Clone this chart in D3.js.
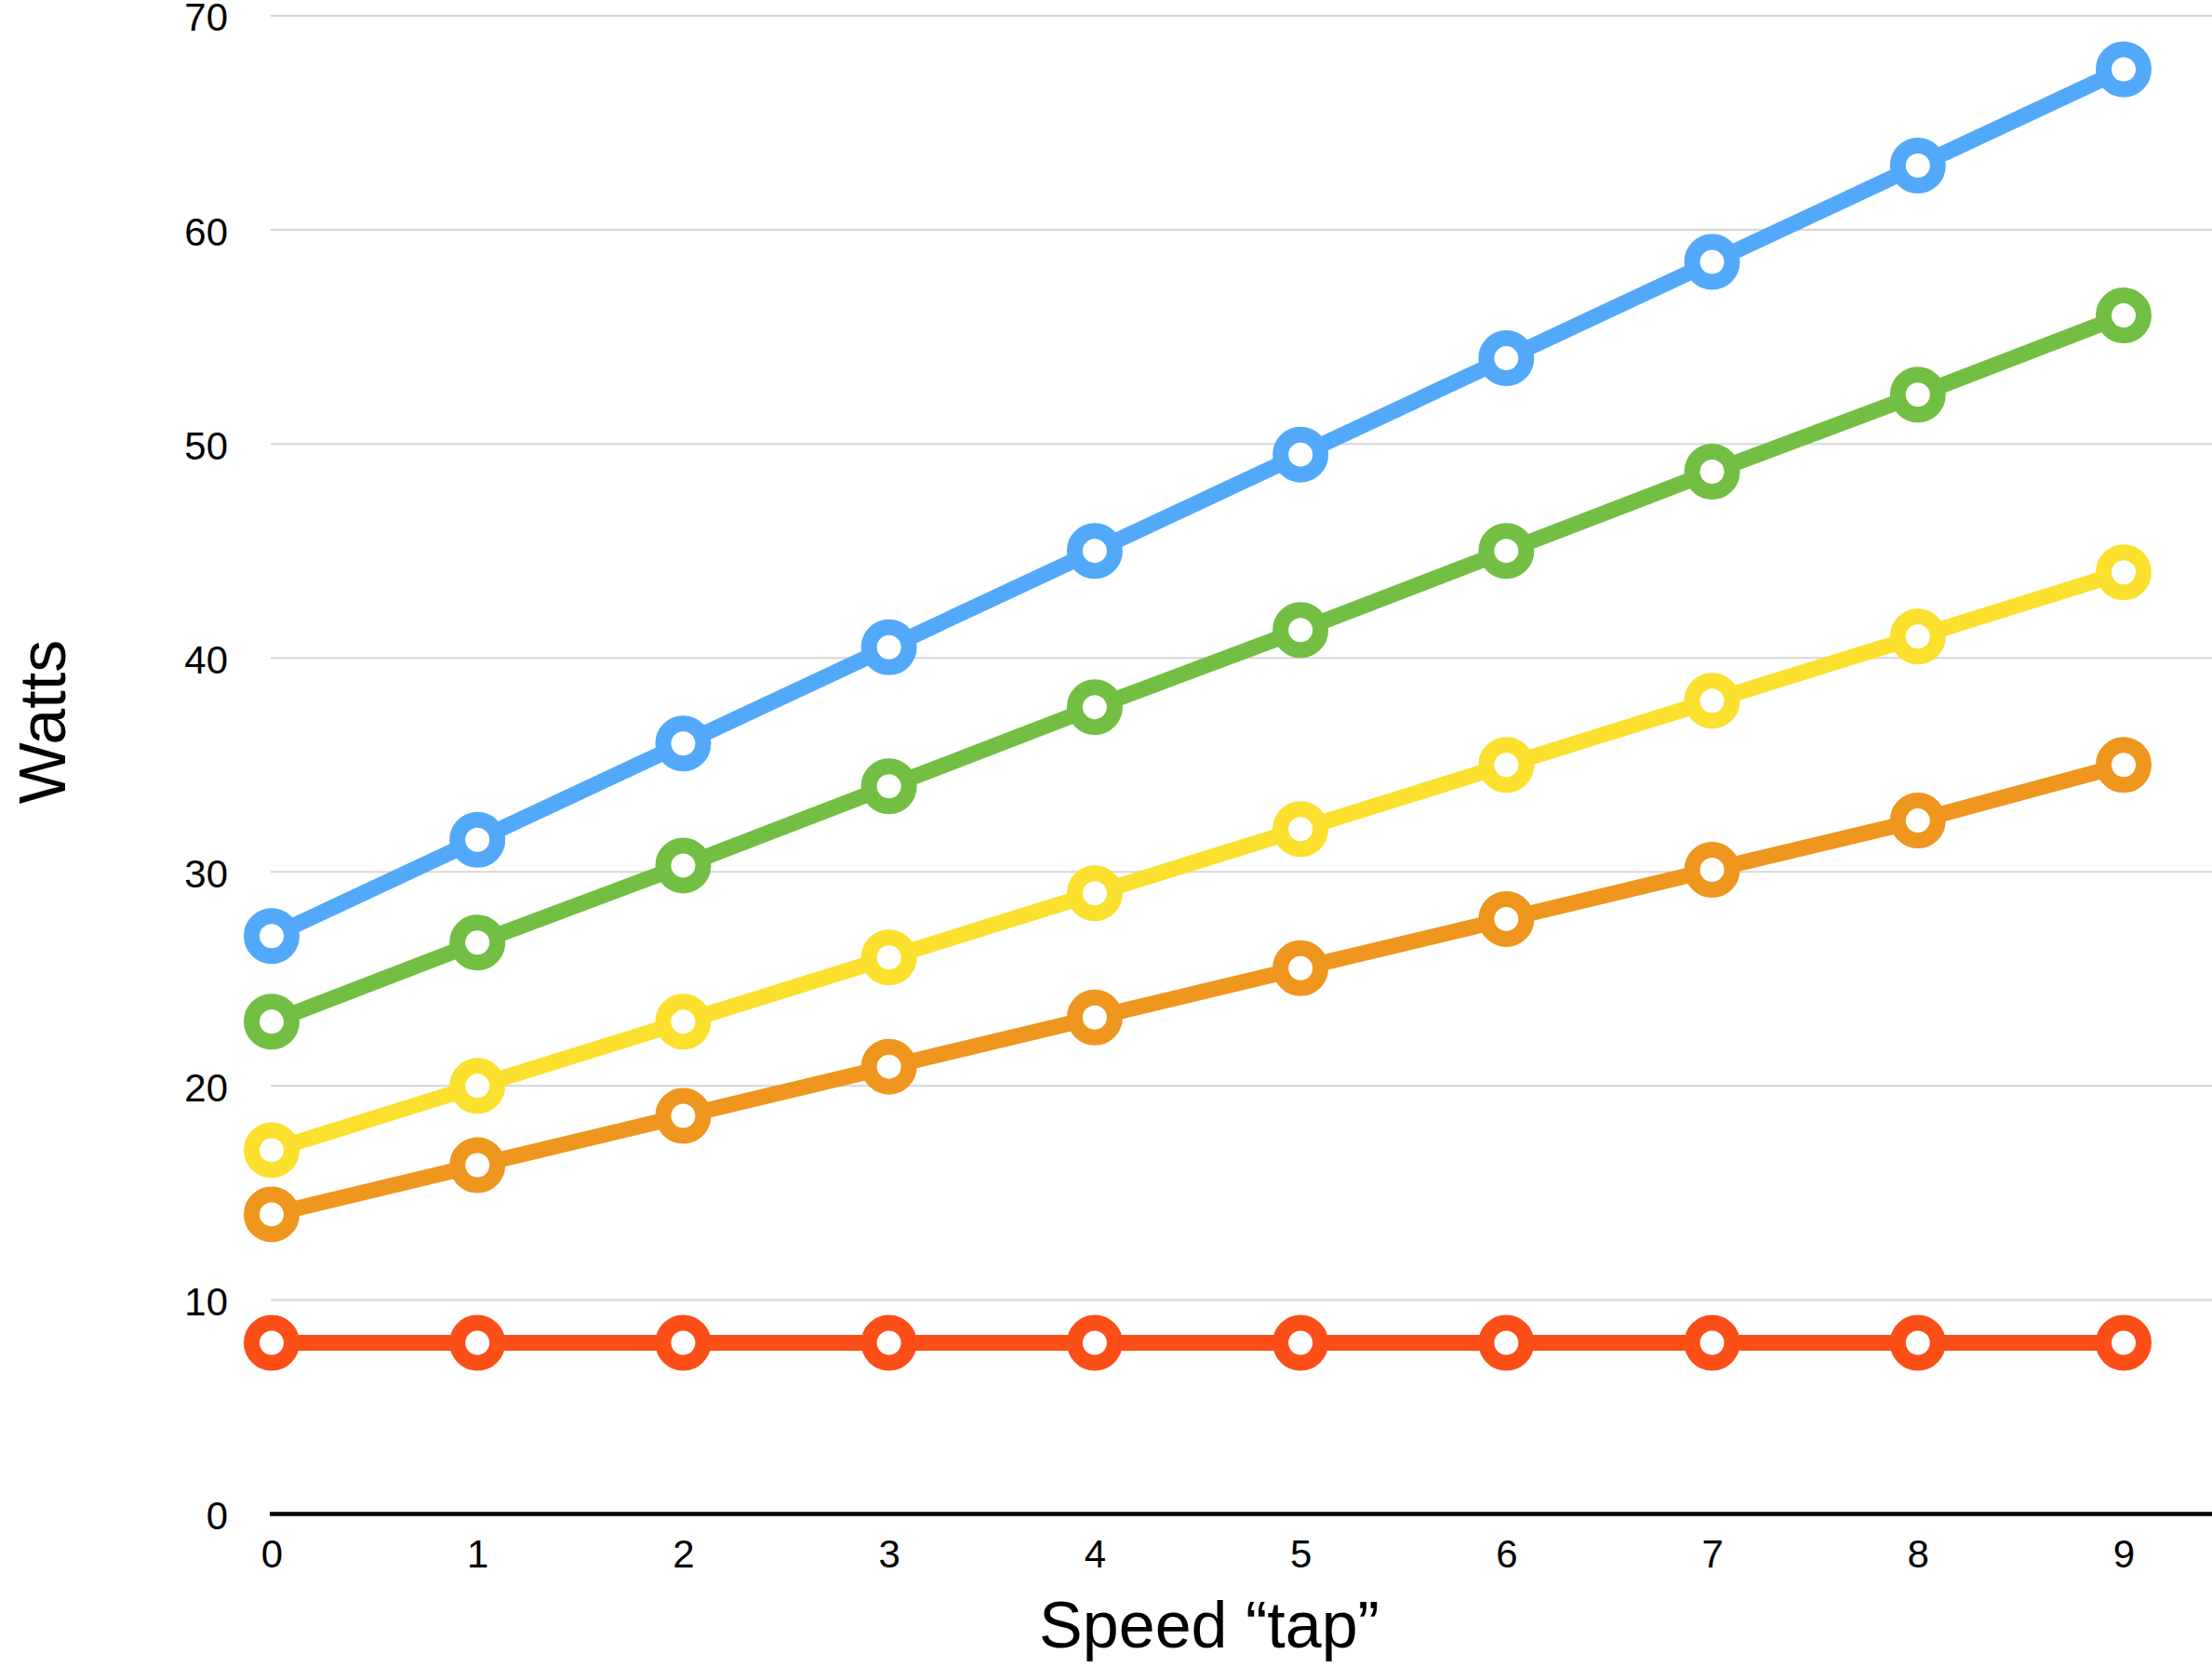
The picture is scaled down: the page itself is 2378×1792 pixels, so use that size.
<!DOCTYPE html>
<html>
<head>
<meta charset="utf-8">
<script src="https://cdn.jsdelivr.net/npm/d3@7"></script>
<style>
  html, body { margin: 0; padding: 0; background: #fff; }
  svg { display: block; }
  text { font-family: "Liberation Sans", Arial, Helvetica, sans-serif; fill: #000; }
</style>
</head>
<body>
<svg id="chart" width="2378" height="1792"></svg>
<script>
// Speed "tap" settings on the horizontal axis
const taps = [0, 1, 2, 3, 4, 5, 6, 7, 8, 9];

// Power draw (watts) for each series at every tap
const seriesBlue   = [27, 31.5, 36, 40.5, 45, 49.5, 54, 58.5, 63, 67.5];
const seriesGreen  = [23, 26.7, 30.3, 34, 37.7, 41.3, 45, 48.7, 52.3, 56];
const seriesYellow = [17, 20, 23, 26, 29, 32, 35, 38, 41, 44];
const seriesOrange = [14, 16.3, 18.6, 20.9, 23.2, 25.5, 27.8, 30.1, 32.4, 35];
const seriesRed    = [8, 8, 8, 8, 8, 8, 8, 8, 8, 8];

const yTicks = [0, 10, 20, 30, 40, 50, 60, 70];

const series = [
  { values: seriesRed,    color: "#fc4e17" },
  { values: seriesOrange, color: "#ef961f" },
  { values: seriesYellow, color: "#fbe02e" },
  { values: seriesGreen,  color: "#72bf44" },
  { values: seriesBlue,   color: "#52a9f9" }
];

const svg = d3.select("#chart");

const x = d3.scaleLinear().domain([0, 9]).range([292, 2283]);
const y = d3.scaleLinear().domain([0, 70]).range([1627.5, 17]);

const gridLeft = 291, gridRight = 2378;

// Horizontal gridlines
svg.append("g")
  .selectAll("line")
  .data(yTicks.filter(t => t !== 0))
  .join("line")
  .attr("x1", gridLeft).attr("x2", gridRight)
  .attr("y1", d => y(d)).attr("y2", d => y(d))
  .attr("stroke", "#d6d6d6")
  .attr("stroke-width", 2);

// Baseline at zero
svg.append("line")
  .attr("x1", 290).attr("x2", gridRight)
  .attr("y1", y(0)).attr("y2", y(0))
  .attr("stroke", "#000")
  .attr("stroke-width", 4.5);

// Y axis tick labels
const yAxis = d3.axisLeft(y).tickValues(yTicks).tickSize(0).tickPadding(0).tickFormat(d3.format("d"));
const gy = svg.append("g").attr("transform", "translate(245,0)").call(yAxis);
gy.select(".domain").remove();
gy.selectAll("text")
  .attr("font-size", 42)
  .attr("font-family", "Liberation Sans, Arial, sans-serif")
  .attr("fill", "#000")
  .attr("dy", "0.38em");

// X axis tick labels
const xAxis = d3.axisBottom(x).tickValues(taps).tickSize(0).tickPadding(0).tickFormat(d3.format("d"));
const gx = svg.append("g").attr("transform", "translate(0,1655)").call(xAxis);
gx.select(".domain").remove();
gx.selectAll("text")
  .attr("font-size", 42)
  .attr("font-family", "Liberation Sans, Arial, sans-serif")
  .attr("fill", "#000")
  .attr("dy", "0.72em");

// Axis titles
svg.append("text")
  .attr("x", 1300).attr("y", 1771)
  .attr("text-anchor", "middle")
  .attr("font-size", 70)
  .text("Speed \u201ctap\u201d");

svg.append("text")
  .attr("transform", "translate(70,776) rotate(-90)")
  .attr("text-anchor", "middle")
  .attr("font-size", 70)
  .text("Watts");

// Lines and ring markers
const line = d3.line().x((d, i) => x(taps[i])).y(d => y(d));

const groups = svg.append("g")
  .selectAll("g")
  .data(series)
  .join("g");

groups.append("path")
  .attr("d", d => line(d.values))
  .attr("fill", "none")
  .attr("stroke", d => d.color)
  .attr("stroke-width", 17)
  .attr("stroke-linejoin", "round");

groups.each(function(s) {
  d3.select(this).selectAll("circle")
    .data(s.values)
    .join("circle")
    .attr("cx", (d, i) => x(taps[i]))
    .attr("cy", d => y(d))
    .attr("r", 21.5)
    .attr("fill", "#fff")
    .attr("stroke", s.color)
    .attr("stroke-width", 17);
});
</script>
</body>
</html>
